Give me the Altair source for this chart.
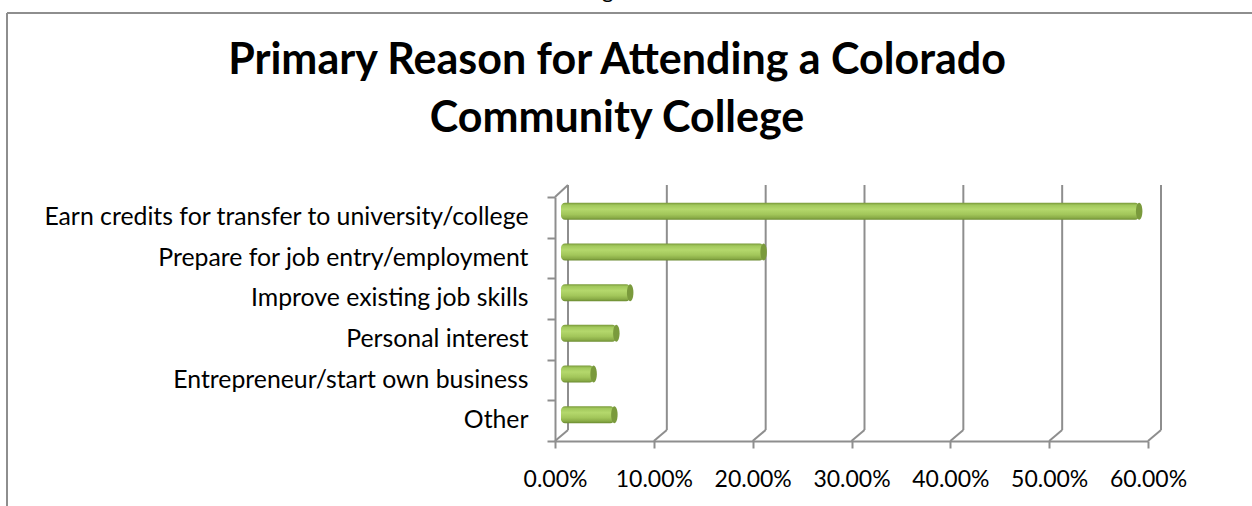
import altair as alt
import pandas as pd

categories = [
    "Earn credits for transfer to university/college",
    "Prepare for job entry/employment ",
    "Improve existing job skills",
    "Personal interest",
    "Entrepreneur/start own business",
    "Other",
]
shares = [0.585, 0.205, 0.070, 0.056, 0.033, 0.054]
tick_values = [0.0, 0.1, 0.2, 0.3, 0.4, 0.5, 0.6]
title_lines = ["Primary Reason for Attending a Colorado", "Community College"]

df = pd.DataFrame({"reason": categories, "share": shares})
grid_df = pd.DataFrame({"g": tick_values})
one = pd.DataFrame({"k": [0]})

FONT = "Lato"
GREY = "#8E8E8E"
xscale = alt.Scale(domain=[0, 0.6], nice=False, zero=True)
yscale = alt.Scale(domain=categories, paddingInner=0, paddingOuter=0)

xaxis = alt.Axis(
    values=tick_values, format=".2%", title=None, grid=False,
    domainColor=GREY, domainWidth=2, tickColor=GREY, tickWidth=2,
    tickSize=7, labelFont=FONT, labelFontSize=23, labelColor="black",
    labelPadding=20, labelOverlap=False, labelFlush=False,
)
yaxis = alt.Axis(
    title=None, domainColor=GREY, domainWidth=2, tickColor=GREY,
    tickWidth=2, tickSize=8, tickBand="extent", labelFont=FONT,
    labelFontSize=24.8, labelColor="black", labelPadding=19,
    labelLimit=700,
)

# back wall gridlines
grid = alt.Chart(grid_df).mark_rule(color=GREY, strokeWidth=2, xOffset=13).encode(
    x=alt.X("g:Q", scale=xscale, axis=xaxis),
    y=alt.value(-12),
    y2=alt.value(233),
)
# floor diagonals
floor = alt.Chart(grid_df).mark_rule(color=GREY, strokeWidth=2, x2Offset=13).encode(
    x=alt.X("g:Q", scale=xscale, axis=xaxis),
    x2="g:Q",
    y=alt.value(244),
    y2=alt.value(233),
)
# left wall top diagonal
wall_top = alt.Chart(one).mark_rule(color=GREY, strokeWidth=2).encode(
    x=alt.value(0), x2=alt.value(13), y=alt.value(0), y2=alt.value(-12)
)

grad = alt.Gradient(
    gradient="linear",
    stops=[
        alt.GradientStop(color="#789838", offset=0),
        alt.GradientStop(color="#A2C85C", offset=0.14),
        alt.GradientStop(color="#B4D86C", offset=0.38),
        alt.GradientStop(color="#A2C65A", offset=0.68),
        alt.GradientStop(color="#8AAC47", offset=0.88),
        alt.GradientStop(color="#6A8A30", offset=1),
    ],
    x1=0, x2=0, y1=0, y2=1,
)

bars = alt.Chart(df).mark_bar(
    fill=grad, size=17, cornerRadius=4,
    xOffset=6, x2Offset=6, yOffset=-6, y2Offset=-6,
).encode(
    x=alt.X("share:Q", scale=xscale, axis=xaxis, stack=None),
    x2=alt.datum(0),
    y=alt.Y("reason:N", scale=yscale, sort=categories, axis=yaxis),
)

ellipse = "M0,-1A0.38,1,0,1,1,0,1A0.38,1,0,1,1,0,-1Z"
caps = alt.Chart(df).mark_point(
    shape=ellipse, filled=True, size=289, fill="#7A9A3C", opacity=1,
    strokeWidth=0, xOffset=6, yOffset=-6,
).encode(
    x=alt.X("share:Q", scale=xscale, axis=xaxis),
    y=alt.Y("reason:N", scale=yscale, sort=categories, axis=yaxis),
)

frame_top = alt.Chart(one).mark_rule(color=GREY, strokeWidth=2).encode(
    x=alt.value(-548), x2=alt.value(700), y=alt.value(-184)
)
frame_left = alt.Chart(one).mark_rule(color=GREY, strokeWidth=2).encode(
    x=alt.value(-548), y=alt.value(-184), y2=alt.value(320)
)
stray = alt.Chart(one).mark_text(
    text="g", font=FONT, fontSize=22, baseline="alphabetic", align="left"
).encode(x=alt.value(47), y=alt.value(-199))

title = alt.Chart(one).mark_text(
    text=title_lines, font=FONT, fontSize=43, fontWeight="bold",
    color="black", align="center", baseline="alphabetic", lineHeight=58,
).encode(x=alt.value(62), y=alt.value(-123))

chart = alt.layer(
    grid, floor, wall_top, bars, caps, frame_top, frame_left, stray, title
).properties(
    width=593,
    height=244,
    padding={"left": 555, "top": 197, "right": 104, "bottom": 65},
    autosize=alt.AutoSizeParams(type="none"),
    background="white",
).configure_view(stroke=None)

chart.save("out.html", embed_options={"renderer": "svg", "actions": False})
